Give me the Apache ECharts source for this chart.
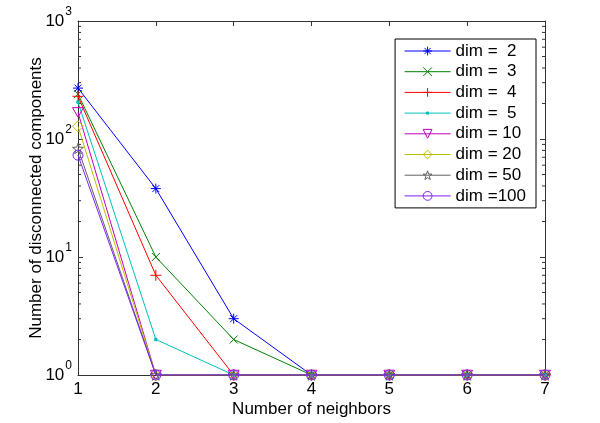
<!DOCTYPE html>
<html>
<head>
<meta charset="utf-8">
<script src="https://cdn.jsdelivr.net/npm/echarts@6/dist/echarts.min.js"></script>
<style>html,body{margin:0;padding:0;background:#fff}#c{width:600px;height:423px}</style>
</head>
<body>
<div id="c"></div>
<script>
const neighbors = [1, 2, 3, 4, 5, 6, 7];
const seriesNames = ['dim =  2', 'dim =  3', 'dim =  4', 'dim =  5', 'dim = 10', 'dim = 20', 'dim = 50', 'dim =100'];
const dim2 = [270, 38, 3, 1, 1, 1, 1];
const dim3 = [240, 10, 2, 1, 1, 1, 1];
const dim4 = [230, 7, 1, 1, 1, 1, 1];
const dim5 = [205, 2, 1, 1, 1, 1, 1];
const dim10 = [168, 1, 1, 1, 1, 1, 1];
const dim20 = [128, 1, 1, 1, 1, 1, 1];
const dim50 = [83, 1, 1, 1, 1, 1, 1];
const dim100 = [73, 1, 1, 1, 1, 1, 1];
const minorTickValues = [2,3,4,5,6,7,8,9,20,30,40,50,60,70,80,90,200,300,400,500,600,700,800,900];

const allData = [dim2, dim3, dim4, dim5, dim10, dim20, dim50, dim100];
const colors = ['#0000ff', '#008000', '#ff0000', '#00bfbf', '#bf00bf', '#bfbf00', '#606060', '#8020ff'];
const symbols = [
  'path://M5,0L5,10M0,5L10,5M1.5,1.5L8.5,8.5M8.5,1.5L1.5,8.5',
  'path://M0,0L10,10M10,0L0,10',
  'path://M5,0L5,10M0,5L10,5',
  'path://M0,0M10,10M3.8,3.8L6.2,3.8L6.2,6.2L3.8,6.2Z',
  'path://M0,0L10,0L5,8.66Z',
  'path://M5,0L10,5L5,10L0,5Z',
  'path://M5,0L6.18,3.38L9.76,3.45L6.9,5.62L7.94,9.05L5,7L2.06,9.05L3.1,5.62L0.24,3.45L3.82,3.38Z',
  'circle'
];
const sizes = [10, 8, 11, 10, 11, 11, 11, 10];
const fonts = '"Liberation Sans", Arial, Helvetica, sans-serif';

const series = allData.map((d, i) => ({
  name: seriesNames[i],
  type: 'line',
  data: neighbors.map((x, j) => [x, d[j]]),
  symbol: symbols[i],
  symbolSize: sizes[i],
  symbolKeepAspect: true,
  showAllSymbol: true,
  lineStyle: { color: colors[i], width: 1 },
  itemStyle: i === 3
    ? { color: colors[i], borderColor: colors[i], borderWidth: 1 }
    : { color: 'rgba(0,0,0,0)', borderColor: colors[i], borderWidth: 1 },
  emphasis: { disabled: true },
  animation: false,
  z: 2 + i
}));

series.push({
  type: 'custom',
  xAxisIndex: 0,
  yAxisIndex: 0,
  silent: true,
  animation: false,
  clip: false,
  z: 1,
  data: minorTickValues,
  renderItem: function (params, api) {
    const v = api.value(0);
    const l = api.coord([1, v]);
    const r = api.coord([7, v]);
    const st = { stroke: '#333', lineWidth: 1 };
    return {
      type: 'group',
      children: [
        { type: 'line', shape: { x1: l[0], y1: l[1], x2: l[0] + 3, y2: l[1] }, style: st },
        { type: 'line', shape: { x1: r[0], y1: r[1], x2: r[0] - 3, y2: r[1] }, style: st }
      ]
    };
  },
  encode: { x: -1, y: 0 }
});

const axisLine = { show: true, lineStyle: { color: '#333', width: 1 } };
const axisTick = { show: true, inside: true, length: 5, lineStyle: { color: '#333', width: 1 } };

const yLabel = {
  fontFamily: fonts,
  color: '#000',
  margin: 6,
  formatter: function (v) { return '{b|10}{s|' + Math.round(Math.log10(v)) + '}'; },
  rich: {
    b: { fontSize: 17, fontFamily: fonts, color: '#000', lineHeight: 17 },
    s: { fontSize: 12, fontFamily: fonts, color: '#000', verticalAlign: 'top', padding: [-7, 0, 0, 1] }
  }
};

const chart = echarts.init(document.getElementById('c'), null, { renderer: 'canvas' });
chart.setOption({
  backgroundColor: '#fff',
  animation: false,
  grid: { left: 78, right: 55, top: 21, bottom: 47, containLabel: false },
  legend: {
    data: seriesNames,
    orient: 'vertical',
    right: 64,
    top: 39,
    backgroundColor: '#fff',
    borderColor: '#000',
    borderWidth: 1,
    borderRadius: 0,
    padding: [3, 10, 3, 9],
    itemWidth: 46,
    itemHeight: 11,
    itemGap: 2.7,
    selectedMode: false,
    lineStyle: { width: 1 },
    itemStyle: { borderWidth: 1 },
    textStyle: { fontFamily: fonts, fontSize: 17, lineHeight: 18, color: '#000' }
  },
  xAxis: [
    {
      type: 'value', min: 1, max: 7, interval: 1, position: 'bottom',
      name: 'Number of neighbors', nameLocation: 'middle', nameGap: 26, nameMoveOverlap: false,
      nameTextStyle: { fontFamily: fonts, fontSize: 17, color: '#000' },
      axisLine: axisLine, axisTick: axisTick,
      axisLabel: { fontFamily: fonts, fontSize: 17, color: '#000', margin: 6 },
      splitLine: { show: false }
    },
    {
      type: 'value', min: 1, max: 7, interval: 1, position: 'top',
      axisLine: axisLine, axisTick: axisTick,
      axisLabel: { show: false }, splitLine: { show: false }
    }
  ],
  yAxis: [
    {
      type: 'log', logBase: 10, min: 1, max: 1000, position: 'left',
      name: 'Number of disconnected components', nameLocation: 'middle', nameGap: 33, nameMoveOverlap: false,
      nameTextStyle: { fontFamily: fonts, fontSize: 17, color: '#000' },
      axisLine: axisLine, axisTick: axisTick,
      axisLabel: yLabel, splitLine: { show: false }
    },
    {
      type: 'log', logBase: 10, min: 1, max: 1000, position: 'right',
      axisLine: axisLine, axisTick: axisTick,
      axisLabel: { show: false }, splitLine: { show: false }
    }
  ],
  series: series
});
</script>
</body>
</html>
